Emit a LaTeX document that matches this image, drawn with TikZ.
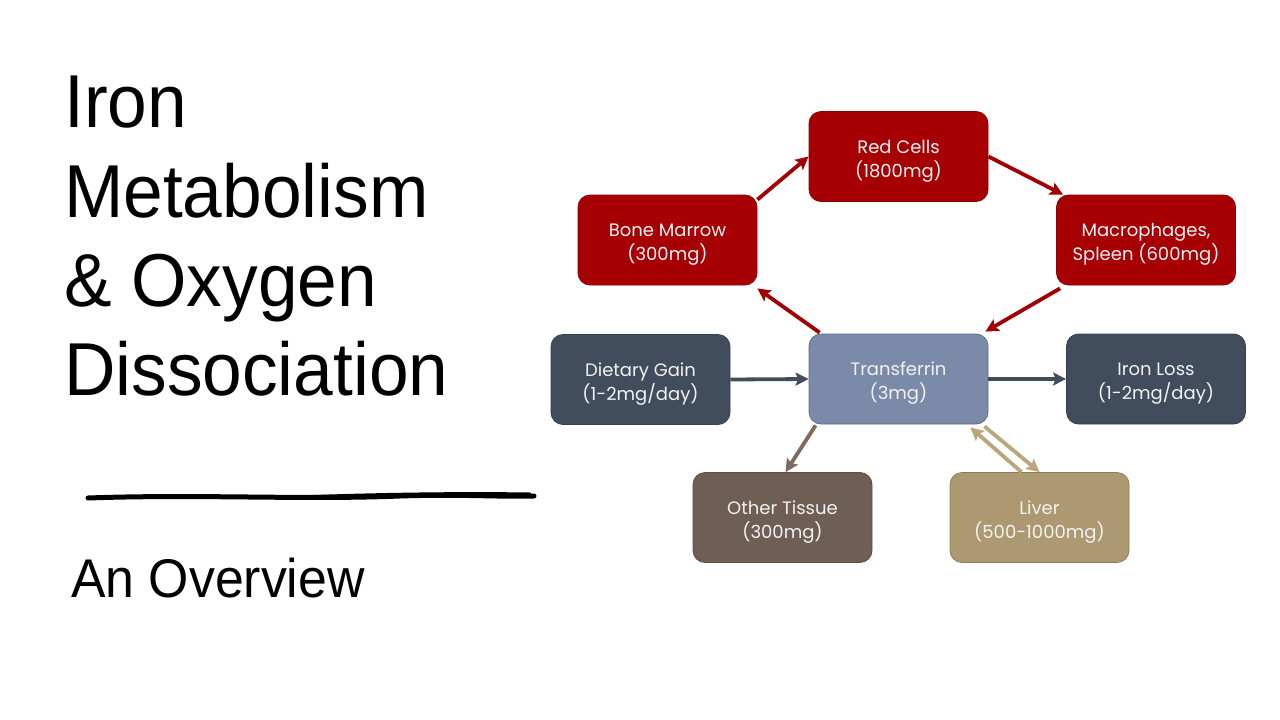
\documentclass[tikz,border=0pt]{standalone}
\usepackage{fontspec}
\setmainfont{Liberation Sans}
\newfontfamily\titlefont[FakeStretch=0.95]{Liberation Sans}
\newfontfamily\boxfont{Poppins}
\usetikzlibrary{arrows.meta}
\newcommand\boxstrut{\rule{0pt}{22pt}}
\definecolor{redbox}{RGB}{166,0,4}
\definecolor{redline}{RGB}{160,0,4}
\definecolor{slate}{RGB}{65,77,92}
\definecolor{tfcol}{RGB}{123,138,168}
\definecolor{tfline}{RGB}{93,109,140}
\definecolor{otcol}{RGB}{110,94,83}
\definecolor{otarrow}{RGB}{125,107,94}
\definecolor{lvcol}{RGB}{173,153,113}
\definecolor{lvline}{RGB}{143,124,85}
\definecolor{lvarrow}{RGB}{186,166,125}
\tikzset{
  box/.style={rectangle, rounded corners=12pt, minimum width=179pt, minimum height=90pt,
    align=center, text=white!90!gray, font=\boxfont\fontsize{18}{24}\selectfont, line width=0.8pt, inner sep=0pt},
  redb/.style={box, fill=redbox, draw=redbox!85!black},
  slateb/.style={box, fill=slate, draw=slate!85!black},
  tfb/.style={box, fill=tfcol, draw=tfline},
  otb/.style={box, fill=otcol, draw=otcol!85!black},
  lvb/.style={box, fill=lvcol, draw=lvline},
  arr/.style={line width=3.8pt, -{Stealth[length=13pt,width=13pt,inset=2.5pt]}},
  title/.style={anchor=base west, inner sep=0pt, font=\titlefont\fontsize{75}{75}\selectfont},
}
\begin{document}
\begin{tikzpicture}[x=1pt,y=-1pt]
\useasboundingbox (0,0) rectangle (1280,720);
\fill[white] (0,0) rectangle (1280,720);
% title
\node[title] (t1) at (64,127) {Iron};
\node[title] (t2) at (64,217) {Metabolism};
\node[title] (t3) at (64,306) {\& Oxygen};
\node[title] (t4) at (64,395) {Dissociation};
\draw[line width=5pt, line cap=round] (88,498) .. controls (200,494) and (300,500) .. (400,496) .. controls (460,494) and (500,497) .. (534,496);
\draw[line width=3pt, line cap=round] (300,497) .. controls (380,494) and (460,493) .. (530,494);
\node[title, font=\titlefont\fontsize{54.5}{56}\selectfont] (sub) at (71,597) {An Overview};
% boxes
\node[redb] (rc) at (898.5,156.5) {\boxstrut Red Cells\\(1800mg)};
\node[redb] (bm) at (667.5,240) {\boxstrut Bone Marrow\\(300mg)};
\node[redb] (mac) at (1146,240) {\boxstrut Macrophages,\\Spleen (600mg)};
\node[slateb] (dg) at (640.5,379.5) {\boxstrut Dietary Gain\\(1-2mg/day)};
\node[tfb] (tf) at (898.5,379) {\boxstrut Transferrin\\(3mg)};
\node[slateb] (il) at (1156,379) {\boxstrut Iron Loss\\(1-2mg/day)};
\node[otb] (ot) at (782.5,517.5) {\boxstrut Other Tissue\\(300mg)};
\node[lvb] (lv) at (1039.5,517.5) {\boxstrut Liver\\(500-1000mg)};
% arrows
\draw[arr, redline] ([yshift=-5pt]bm.north east) -- (rc.west);
\draw[arr, redline] (rc.east) -- ([xshift=7pt]mac.north west);
\draw[arr, redline] ([xshift=4pt,yshift=-3pt]mac.south west) -- ([xshift=-3pt,yshift=2pt]tf.north east);
\draw[arr, redline] ([xshift=11pt,yshift=1pt]tf.north west) -- ([yshift=-3pt]bm.south east);
\draw[arr, slate] (dg.east) -- (tf.west);
\draw[arr, slate] (tf.east) -- (il.west);
\draw[arr, otarrow] ([xshift=7pt,yshift=-1pt]tf.south west) -- ([xshift=3pt]ot.north);
\draw[arr, lvarrow] ([xshift=-4pt,yshift=-2pt]tf.south east) -- ([xshift=0pt]lv.north);
\draw[arr, lvarrow] ([xshift=-18pt]lv.north) -- ([xshift=-18pt,yshift=-3pt]tf.south east);
\end{tikzpicture}
\end{document}
